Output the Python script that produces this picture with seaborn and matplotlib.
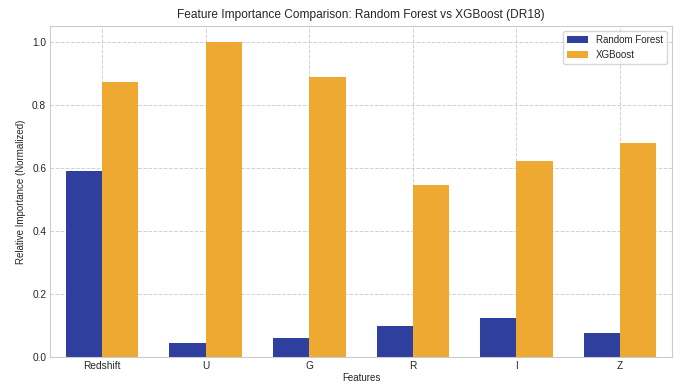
import matplotlib
matplotlib.use("Agg")
import matplotlib.pyplot as plt
import seaborn as sns
import pandas as pd

# Dados
features = ['Redshift', 'U', 'G', 'R', 'I', 'Z']
rf_importance = [0.59, 0.044, 0.062, 0.099, 0.125, 0.078]
xgb_importance = [0.873, 1.0, 0.889, 0.545, 0.621, 0.679]
models = ['Random Forest', 'XGBoost']
colors = ['#2e3f9e', '#eda932']

df = pd.DataFrame({
    'Feature': features * 2,
    'Importance': rf_importance + xgb_importance,
    'Model': [models[0]] * len(features) + [models[1]] * len(features),
})

sns.set_theme(style="whitegrid")
plt.rcParams['font.family'] = ['Liberation Sans', 'DejaVu Sans']

fig = plt.figure(figsize=(6.8, 3.85), dpi=100)
ax = fig.add_axes([0.074, 0.072, 0.914, 0.86])

sns.barplot(data=df, x='Feature', y='Importance', hue='Model', palette=colors,
            width=0.7, saturation=1, linewidth=0, ax=ax)

ax.set_ylim(0, 1.05)
ax.set_yticks([0.0, 0.2, 0.4, 0.6, 0.8, 1.0])
ax.grid(True, linestyle='--', color='#d0d0d0', linewidth=0.7)
ax.set_axisbelow(True)
for s in ax.spines.values():
    s.set_color('#cccccc')
    s.set_linewidth(0.8)

ax.set_title('Feature Importance Comparison: Random Forest vs XGBoost (DR18)', fontsize=8.6, pad=6)
ax.set_xlabel('Features', fontsize=7, labelpad=1)
ax.set_ylabel('Relative Importance (Normalized)', fontsize=7, labelpad=4)
ax.tick_params(axis='both', labelsize=7.3, pad=3, length=0)

leg = ax.legend(loc='upper right', fontsize=7, frameon=True, title=None, handlelength=2.2)
leg.get_frame().set_edgecolor('#cccccc')

fig.savefig('out.png', dpi=100)
